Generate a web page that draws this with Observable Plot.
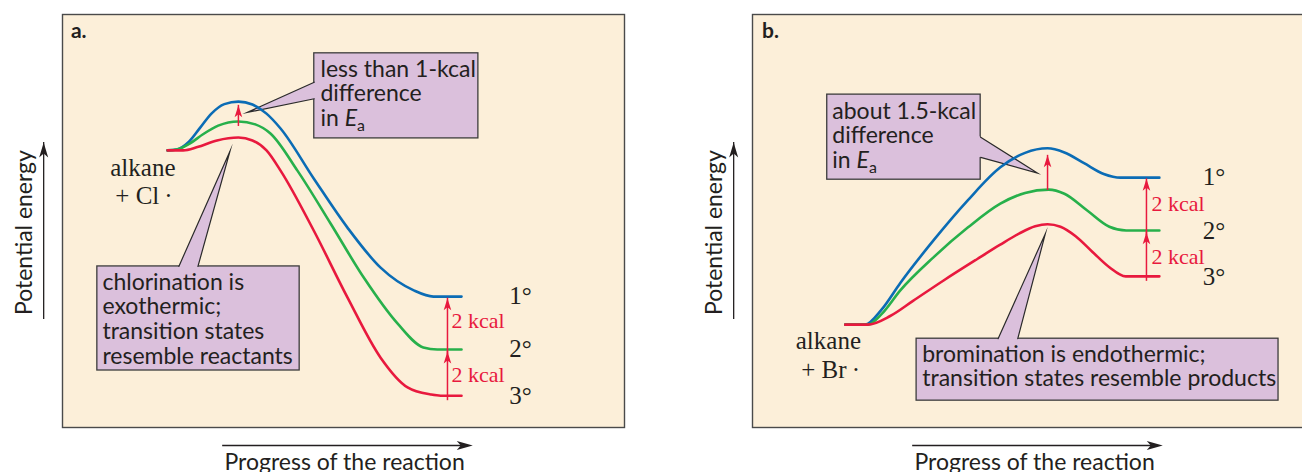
<!DOCTYPE html>
<html>
<head>
<meta charset="utf-8">
<script src="https://cdn.jsdelivr.net/npm/d3@7"></script>
<script src="https://cdn.jsdelivr.net/npm/@observablehq/plot@0.6"></script>
<style>
  html, body { margin: 0; padding: 0; background: #ffffff; overflow: hidden; }
  #chart { width: 1302px; height: 472px; }
</style>
</head>
<body>
<div id="chart"></div>
<script>
// ---------- DATA (progress: 0-100 across each panel, potential energy: 0-100 bottom to top) ----------
const panels = ["a", "b"];
const seriesNames = ["1°", "2°", "3°"];

// a. chlorination
const primaryA   = [[18.7,67.1],[20.3,67.3],[22.5,69.2],[24.5,72.6],[26.5,76.0],[28.8,78.3],[31.3,78.9],[33.8,78.2],[36.3,76.0],[38.8,72.4],[44.7,60.3],[50.7,48.4],[56.6,38.7],[62.5,33.2],[66.0,31.7],[71.0,31.7]];
const secondaryA = [[18.7,67.1],[20.5,67.4],[22.7,68.8],[25.0,71.0],[27.7,73.1],[31.3,74.1],[34.3,73.4],[37.0,71.2],[41.8,62.2],[47.7,49.4],[53.6,36.3],[59.6,25.2],[64.2,19.4],[66.7,18.9],[71.0,18.9]];
const tertiaryA  = [[18.7,67.1],[21.5,67.1],[24.0,67.9],[27.5,69.5],[31.3,70.2],[33.8,69.5],[36.3,67.1],[38.8,62.2],[44.7,47.7],[50.7,31.5],[56.6,16.9],[61.4,9.7],[65.5,8.0],[67.3,7.7],[71.0,7.7]];
// b. bromination
const primaryB   = [[16.5,24.9],[20.0,24.9],[23.0,28.6],[26.3,35.0],[32.2,45.3],[38.3,55.0],[44.1,63.0],[48.5,66.5],[52.5,67.6],[55.5,66.6],[59.0,64.0],[62.5,61.4],[65.5,60.5],[72.4,60.5]];
const secondaryB = [[16.5,24.9],[20.5,24.9],[23.0,27.5],[26.3,33.2],[32.2,41.2],[38.3,48.4],[44.1,54.2],[48.5,56.8],[52.7,57.6],[55.5,56.6],[59.5,52.6],[63.5,48.6],[66.5,47.7],[72.4,47.7]];
const tertiaryB  = [[16.5,24.9],[20.5,24.9],[24.5,27.0],[28.5,30.6],[34.0,35.6],[40.0,40.8],[44.0,44.2],[47.5,47.0],[50.3,48.7],[52.5,49.2],[54.8,48.6],[57.5,46.3],[60.5,42.5],[63.5,38.8],[66.4,36.6],[72.4,36.6]];

// energy-difference arrows (red)
const diffArrows = [
  {panel: "a", x: 68.5, from: 7.7,  to: 18.4},
  {panel: "a", x: 68.5, from: 18.9, to: 31.3},
  {panel: "a", x: 31.3, from: 74.1, to: 78.0},
  {panel: "b", x: 70.1, from: 36.6, to: 47.3},
  {panel: "b", x: 70.1, from: 47.7, to: 60.2},
  {panel: "b", x: 52.5, from: 58.6, to: 65.9}
];
const kcalLabels = [
  {panel: "a", x: 69.2, y: 24.0, text: "2 kcal"},
  {panel: "a", x: 69.2, y: 11.0, text: "2 kcal"},
  {panel: "b", x: 71.0, y: 52.5, text: "2 kcal"},
  {panel: "b", x: 71.0, y: 39.7, text: "2 kcal"}
];
const degreeLabels = [
  {panel: "a", x: 79.5, y: 29.9, text: "1°"},
  {panel: "a", x: 79.5, y: 17.0, text: "2°"},
  {panel: "a", x: 79.5, y: 5.7,  text: "3°"},
  {panel: "b", x: 80.1, y: 58.6, text: "1°"},
  {panel: "b", x: 80.1, y: 45.7, text: "2°"},
  {panel: "b", x: 80.1, y: 34.4, text: "3°"}
];
const reagentLabels = [
  {panel: "a", x: 14.3, y: 61.0, text: "alkane"},
  {panel: "a", x: 14.5, y: 54.2, text: "+ Cl\u2009·"},
  {panel: "b", x: 13.5, y: 19.1, text: "alkane"},
  {panel: "b", x: 13.9, y: 12.1, text: "+ Br\u2009·"}
];
const panelLetters = [
  {panel: "a", x: 1.5, y: 94.2, text: "a."},
  {panel: "b", x: 1.7, y: 94.2, text: "b."}
];

// callouts
const calloutBoxes = [
  {panel: "a", x1: 44.8, x2: 74.0, y1: 70.0, y2: 90.6},
  {panel: "a", x1: 6.2,  x2: 42.2, y1: 13.8, y2: 39.0},
  {panel: "b", x1: 13.3, x2: 40.6, y1: 60.0, y2: 80.6},
  {panel: "b", x1: 29.2, x2: 93.6, y1: 6.5,  y2: 21.5}
];
const calloutTexts = [
  {panel: "a", x: 45.9, y: 89.2, text: "less than 1-kcal\ndifference\nin Ea"},
  {panel: "a", x: 7.1,  y: 37.6, text: "chlorination is\nexothermic;\ntransition states\nresemble reactants"},
  {panel: "b", x: 14.2, y: 79.0, text: "about 1.5-kcal\ndifference\nin Ea"},
  {panel: "b", x: 30.2, y: 20.2, text: "bromination is endothermic;\ntransition states resemble products"}
];
const calloutPointers = [
  {panel: "a", id: "a1", tip: [32.9, 76.3], base: [[44.8, 83.6], [44.8, 79.6]]},
  {panel: "a", id: "a2", tip: [29.8, 66.9], base: [[20.7, 39.0], [24.1, 39.0]]},
  {panel: "b", id: "b1", tip: [50.7, 61.6], base: [[40.6, 70.3], [40.6, 65.4]]},
  {panel: "b", id: "b2", tip: [52.1, 46.9], base: [[43.7, 21.5], [47.2, 21.5]]}
];

// axis titles (outside each panel frame)
const energyAxis   = {x: -3.35, from: 27.6, to: 69.0, labelX: -6.75, labelY: 47.2, text: "Potential energy"};
const progressAxis = {y: -4.36, from: 28.5, to: 73.0, labelX: 50.2, labelY: -10.3, text: "Progress of the reaction"};

// ---------- STYLE ----------
const BG = "#fcefd9", BOXFILL = "#dbc0dc", INK = "#231f20", EDGE = "#4a4a4a", RED = "#e8193e";
const LINE_COLORS = ["#0b6cb5", "#27b04b", "#e8193e"];
const SANS = "Lato", SERIF = "Liberation Serif";

function headUp(len, half, notch) {
  return {draw(ctx) { ctx.moveTo(0, 0); ctx.lineTo(half, len); ctx.lineTo(0, notch); ctx.lineTo(-half, len); ctx.closePath(); }};
}
function headRight(len, half, notch) {
  return {draw(ctx) { ctx.moveTo(0, 0); ctx.lineTo(-len, -half); ctx.lineTo(-notch, 0); ctx.lineTo(-len, half); ctx.closePath(); }};
}

// ---------- BUILD TABLES ----------
const curveRows = [];
[["a", [primaryA, secondaryA, tertiaryA]], ["b", [primaryB, secondaryB, tertiaryB]]].forEach(([panel, sets]) =>
  sets.forEach((pts, i) => pts.forEach(([x, y]) => curveRows.push({panel, series: seriesNames[i], x, y}))));

const pointerFill = [], pointerEdge = [];
calloutPointers.forEach(p => {
  const k = 0.2;
  const ext = b => [b[0] + (b[0] - p.tip[0]) * k, b[1] + (b[1] - p.tip[1]) * k];
  [p.tip, ext(p.base[0]), ext(p.base[1])].forEach(([x, y]) => pointerFill.push({panel: p.panel, id: p.id, x, y}));
  [p.base[0], p.tip, p.base[1]].forEach(([x, y]) => pointerEdge.push({panel: p.panel, id: p.id, x, y}));
});

const axisRows = panels.map(panel => ({panel}));

// ---------- PLOT ----------
const chart = Plot.plot({
  width: 1302,
  height: 472,
  marginLeft: 62,
  marginRight: -12,
  marginTop: 14,
  marginBottom: 45,
  fx: {domain: panels, paddingInner: 0.1855, paddingOuter: 0, axis: null, round: false},
  x: {domain: [0, 100], axis: null},
  y: {domain: [0, 100], axis: null},
  color: {domain: seriesNames, range: LINE_COLORS},
  marks: [
    Plot.frame({fill: BG, stroke: EDGE, strokeWidth: 1.4}),
    // callout boxes and pointers
    Plot.rect(calloutBoxes, {fx: "panel", x1: "x1", x2: "x2", y1: "y1", y2: "y2", fill: BOXFILL, stroke: "#3c3c3c", strokeWidth: 1.3}),
    Plot.line(pointerFill, {fx: "panel", x: "x", y: "y", z: "id", fill: BOXFILL, stroke: "none", curve: "linear-closed"}),
    Plot.line(pointerEdge, {fx: "panel", x: "x", y: "y", z: "id", stroke: "#2a2a2a", strokeWidth: 1.2, strokeLinejoin: "miter", strokeMiterlimit: 20}),
    // energy curves
    Plot.line(curveRows, {fx: "panel", x: "x", y: "y", z: "series", stroke: "series", strokeWidth: 2.6, curve: "monotone-x"}),
    // red difference arrows
    Plot.ruleX(diffArrows, {fx: "panel", x: "x", y1: "from", y2: "to", stroke: RED, strokeWidth: 1.5, insetTop: 5}),
    Plot.dot(diffArrows, {fx: "panel", x: "x", y: "to", symbol: headUp(12, 3.8, 9), r: 5, fill: RED, stroke: "none"}),
    // axis arrows outside each frame
    Plot.ruleX(axisRows, {fx: "panel", x: () => energyAxis.x, y1: () => energyAxis.from, y2: () => energyAxis.to, stroke: INK, strokeWidth: 1.3, insetTop: 6}),
    Plot.dot(axisRows, {fx: "panel", x: () => energyAxis.x, y: () => energyAxis.to, symbol: headUp(15, 4.5, 11), r: 5, fill: INK, stroke: "none"}),
    Plot.ruleY(axisRows, {fx: "panel", y: () => progressAxis.y, x1: () => progressAxis.from, x2: () => progressAxis.to, stroke: INK, strokeWidth: 1.3, insetRight: 6}),
    Plot.dot(axisRows, {fx: "panel", x: () => progressAxis.to, y: () => progressAxis.y, symbol: headRight(16, 4.5, 12), r: 5, fill: INK, stroke: "none"}),
    Plot.text(axisRows, {fx: "panel", x: () => energyAxis.labelX, y: () => energyAxis.labelY, text: () => energyAxis.text, rotate: -90, textAnchor: "middle", lineAnchor: "middle", fontFamily: SANS, fontSize: 23, fill: INK}),
    Plot.text(axisRows, {fx: "panel", x: () => progressAxis.labelX, y: () => progressAxis.labelY, text: () => progressAxis.text, textAnchor: "middle", lineAnchor: "bottom", fontFamily: SANS, fontSize: 23, fill: INK}),
    // texts
    Plot.text(calloutTexts, {fx: "panel", x: "x", y: "y", text: "text", textAnchor: "start", lineAnchor: "top", lineHeight: 1.07, fontFamily: SANS, fontSize: 23, fill: INK}),
    Plot.text(kcalLabels, {fx: "panel", x: "x", y: "y", text: "text", textAnchor: "start", lineAnchor: "bottom", fontFamily: SERIF, fontSize: 22, fill: RED}),
    Plot.text(degreeLabels, {fx: "panel", x: "x", y: "y", text: "text", textAnchor: "start", lineAnchor: "bottom", fontFamily: SERIF, fontSize: 25, fill: INK}),
    Plot.text(reagentLabels, {fx: "panel", x: "x", y: "y", text: "text", textAnchor: "middle", lineAnchor: "bottom", fontFamily: SERIF, fontSize: 25, fill: INK}),
    Plot.text(panelLetters, {fx: "panel", x: "x", y: "y", text: "text", textAnchor: "start", lineAnchor: "bottom", fontFamily: SANS, fontSize: 21, fontWeight: "bold", fill: INK})
  ]
});

// italic E with subscript a in "in Ea"
const NS = "http://www.w3.org/2000/svg";
chart.querySelectorAll("tspan").forEach(t => {
  if (t.textContent === "in Ea") {
    t.textContent = "in ";
    const e = document.createElementNS(NS, "tspan");
    e.setAttribute("font-style", "italic");
    e.textContent = "E";
    const s = document.createElementNS(NS, "tspan");
    s.setAttribute("font-size", "16");
    s.setAttribute("dy", "5");
    s.textContent = "a";
    t.append(e, s);
  }
});

document.getElementById("chart").appendChild(chart);
</script>
</body>
</html>
